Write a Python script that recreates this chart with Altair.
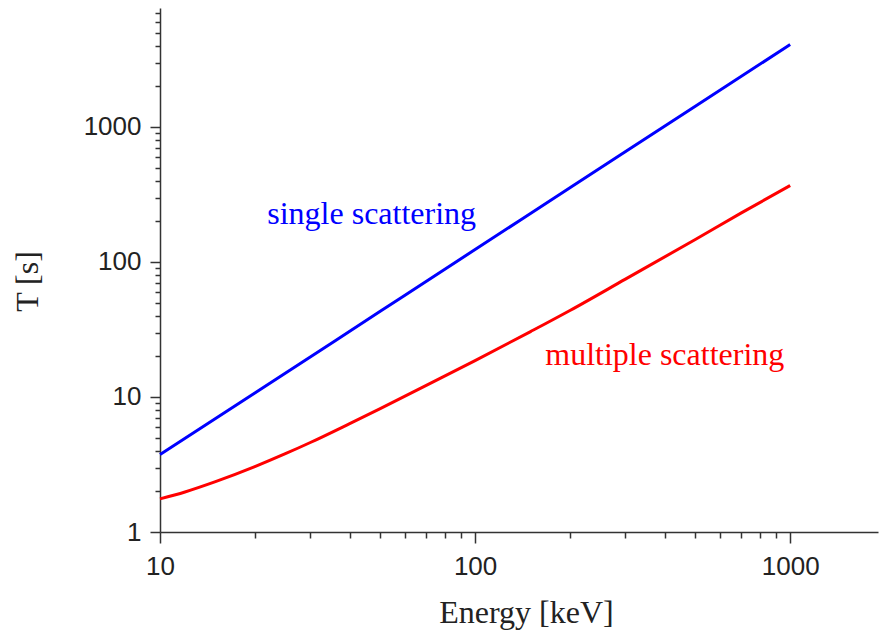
import altair as alt
import pandas as pd

# Single scattering curve
single_E = [10, 20, 50, 100, 200, 500, 1000]
single_T = [3.75, 10.7, 43.1, 123.6, 354, 1425, 4075]

# Multiple scattering curve
multi_E = [10, 12, 15, 20, 25, 30, 40, 50, 70, 100, 150, 200, 300, 500, 700, 1000]
multi_T = [1.76, 1.98, 2.36, 3.05, 3.8, 4.6, 6.35, 8.2, 12.2, 18.6, 30.5, 43.7, 74.6, 146.7, 231, 368]

# Annotations
label_text = ["single scattering", "multiple scattering"]
label_E = [21.9, 167]
label_T = [228, 20.6]
label_color = ["#0000ff", "#ff0000"]

x_ticks = [10, 20, 30, 40, 50, 60, 70, 80, 90,
           100, 200, 300, 400, 500, 600, 700, 800, 900, 1000]
y_ticks = [1, 2, 3, 4, 5, 6, 7, 8, 9,
           10, 20, 30, 40, 50, 60, 70, 80, 90,
           100, 200, 300, 400, 500, 600, 700, 800, 900,
           1000, 2000, 3000, 4000, 5000, 6000, 7000]

df = pd.concat([
    pd.DataFrame({"E": single_E, "T": single_T, "series": "single"}),
    pd.DataFrame({"E": multi_E, "T": multi_T, "series": "multiple"}),
])
labels = pd.DataFrame({"text": label_text, "E": label_E, "T": label_T, "color": label_color})

major_test = "indexof([1,10,100,1000], datum.value) >= 0"
label_expr = f"{major_test} ? format(datum.value, 'd') : ''"

xscale = alt.Scale(type="log", domain=[10, 1900], nice=False)
yscale = alt.Scale(type="log", domain=[1, 7600], nice=False)

x_axis = alt.Axis(
    values=x_ticks, labelExpr=label_expr, grid=False,
    title="Energy [keV]", titleFont="Liberation Serif", titleFontSize=32,
    titleFontWeight="normal", titleColor="#222222",
    titleX=366, titleY=90, titleBaseline="alphabetic", titleAnchor="middle",
    labelFont="Liberation Sans", labelFontSize=26, labelColor="#222222",
    labelPadding=10, labelOverlap=False, labelFlush=False,
    tickSize={"condition": {"test": major_test, "value": 11}, "value": 6},
    tickColor="#333333", tickWidth=1.5,
    domainColor="#333333", domainWidth=1.5,
)
y_axis = alt.Axis(
    values=y_ticks, labelExpr=label_expr, grid=False,
    title="T [s]", titleFont="Liberation Serif", titleFontSize=32,
    titleFontWeight="normal", titleColor="#222222",
    titleX=-133, titleY=273, titleAngle=-90, titleBaseline="middle",
    labelFont="Liberation Sans", labelFontSize=26, labelColor="#222222",
    labelPadding=9, labelOverlap=False, labelFlush=False,
    tickSize={"condition": {"test": major_test, "value": 10}, "value": 5},
    tickColor="#333333", tickWidth=1.5,
    domainColor="#333333", domainWidth=1.5,
)

lines = alt.Chart(df).mark_line(strokeWidth=3, interpolate="monotone").encode(
    x=alt.X("E:Q", scale=xscale, axis=x_axis),
    y=alt.Y("T:Q", scale=yscale, axis=y_axis),
    color=alt.Color("series:N",
                    scale=alt.Scale(domain=["single", "multiple"], range=["#0000ff", "#ff0000"]),
                    legend=None),
    detail="series:N",
)

text = alt.Chart(labels).mark_text(
    align="left", baseline="middle", font="Liberation Serif", fontSize=32
).encode(
    x=alt.X("E:Q", scale=xscale),
    y=alt.Y("T:Q", scale=yscale),
    text="text:N",
    color=alt.Color("color:N", scale=None),
)

chart = alt.layer(lines, text).properties(
    width=718, height=524,
    autosize=alt.AutoSizeParams(type="none"),
    padding={"left": 160, "top": 8, "right": 1, "bottom": 100},
    background="white",
).configure_view(stroke=None)

chart.save("out.html", embed_options={"renderer": "svg", "actions": False})
